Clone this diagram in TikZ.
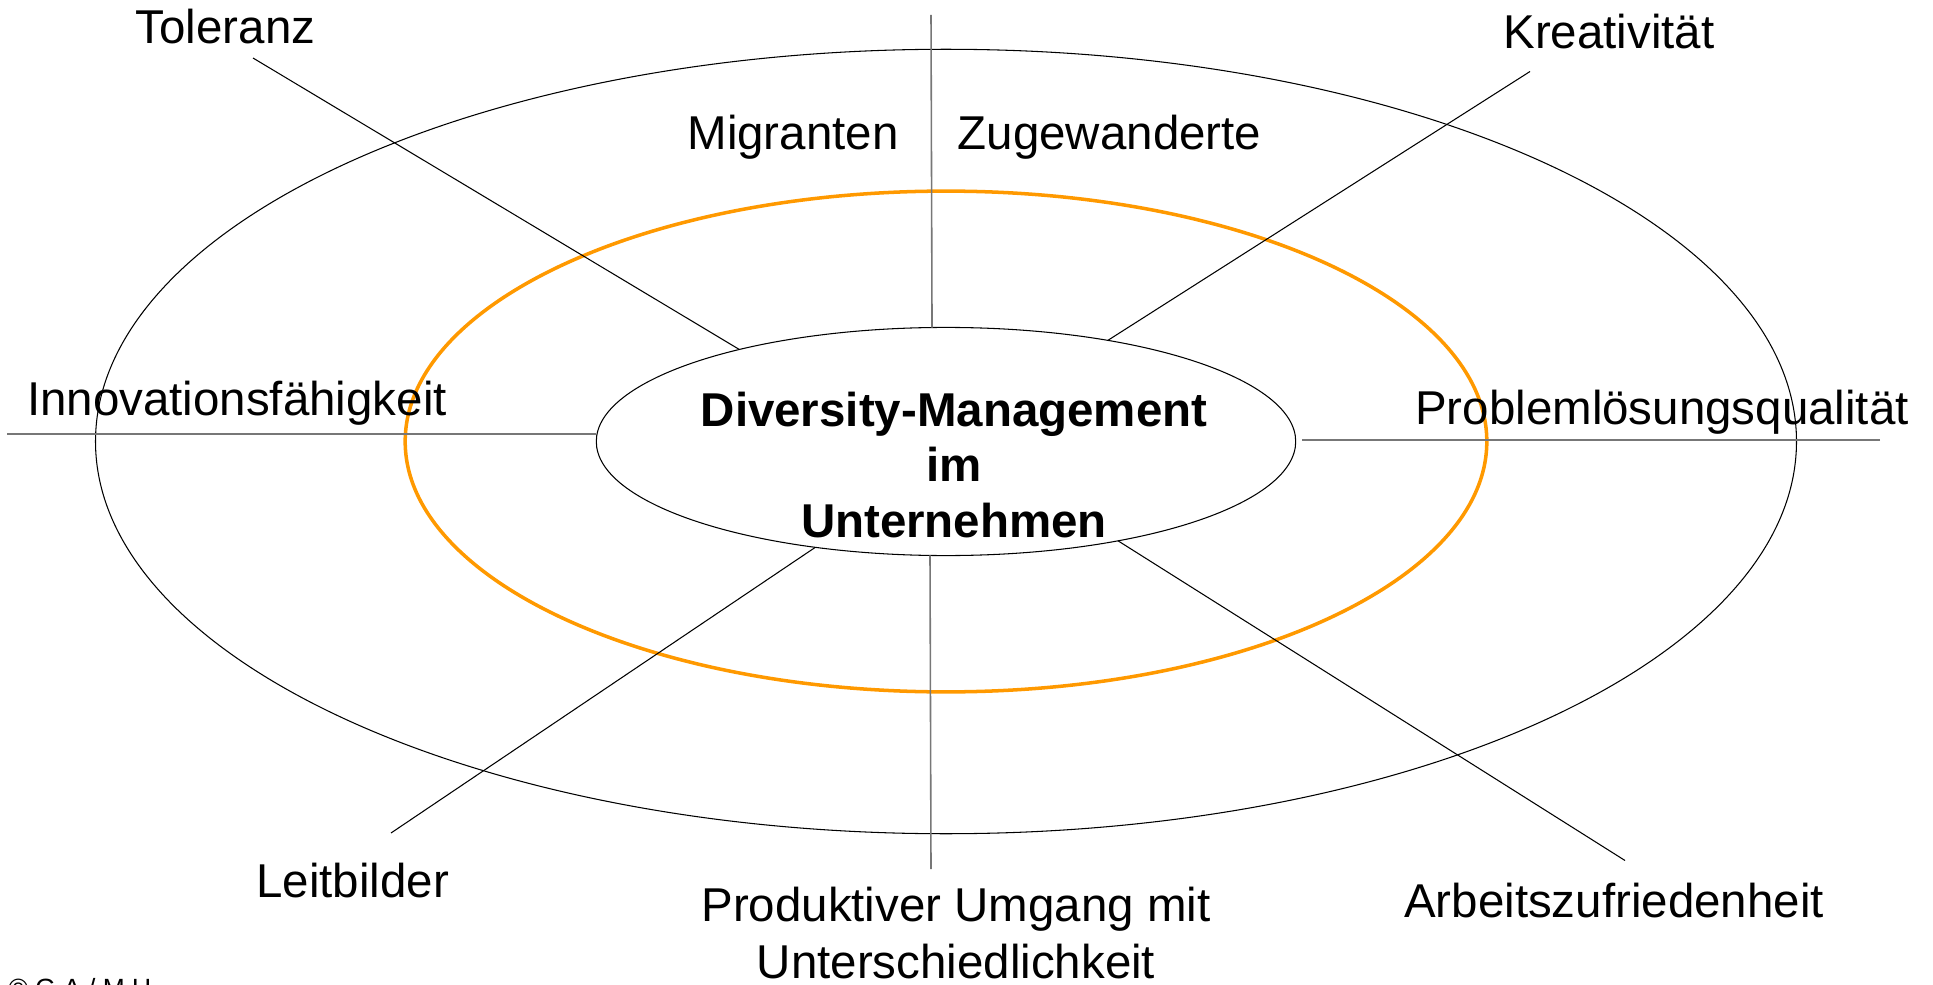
\documentclass[tikz,border=0pt]{standalone}
\usepackage{fontspec}
\setmainfont{Liberation Sans}
\usetikzlibrary{shapes.geometric}

\definecolor{ringorange}{HTML}{FF9900}
\definecolor{spokegray}{HTML}{777777}

\tikzset{
  lbl/.style={anchor=base, inner sep=0pt, font=\fontsize{13.5}{16}\selectfont},
  bold/.style={lbl, font=\fontsize{13.5}{16}\selectfont\bfseries},
  ring/.style={ellipse, draw, inner sep=0pt, outer sep=0pt},
  spoke/.style={draw=black, line width=0.3pt},
  axis/.style={draw=spokegray, line width=0.6pt},
}

\begin{document}
\begin{tikzpicture}[x=0.01cm, y=-0.01cm]

\useasboundingbox (0,0) rectangle (1933,985);

% rings
\node[ring, line width=0.3pt, minimum width=17cm, minimum height=7.84cm] (outer) at (946,441.5) {};
\node[ring, draw=ringorange, line width=1pt, minimum width=10.81cm, minimum height=5.005cm] (middle) at (946,441.5) {};
\node[ring, line width=0.3pt, minimum width=6.99cm, minimum height=2.28cm] (dm) at (946,441.5) {};

% centre text
\node[bold] (dm-1) at (954,426) {Diversity-Management};
\node[bold] (dm-2) at (954,481.5) {im};
\node[bold] (dm-3) at (954,537) {Unternehmen};

% free ends of the spokes
\coordinate (tol-end) at (253,58);
\coordinate (krea-end) at (1530,71.5);
\coordinate (mig-end) at (931,15);
\coordinate (inno-end) at (7,434);
\coordinate (prob-end) at (1880,440);
\coordinate (leit-end) at (391,833);
\coordinate (prod-end) at (931,869);
\coordinate (arb-end) at (1625,860.5);

% spokes
\draw[spoke] (tol-end) -- (dm.156);
\draw[spoke] (krea-end) -- (dm.32.4);
\draw[spoke] (leit-end) -- (dm.219.4);
\draw[spoke] (arb-end) -- (dm.330.7);
\draw[axis, line width=0.45pt] (mig-end) -- (dm.97.5);
\draw[axis, line width=0.45pt] (prod-end) -- (dm.262.5);
\draw[axis] (inno-end) -- (inno-end -| dm.west);
\draw[axis] (prob-end) -- ([xshift=0.06cm]prob-end -| dm.east);

% labels
\node[lbl] (toleranz) at (225.5,44) {Toleranz};
\node[lbl] (kreativ) at (1609,49) {Kreativität};
\node[lbl] (migranten) at (793,150) {Migranten};
\node[lbl] (zugew) at (1109.5,150) {Zugewanderte};
\node[lbl] (innov) at (237,415) {Innovationsfähigkeit};
\node[lbl] (problem) at (1662,424) {Problemlösungsqualität};
\node[lbl] (leitb) at (352.6,897) {Leitbilder};
\node[lbl] (prod-1) at (956,921) {Produktiver Umgang mit};
\node[lbl] (prod-2) at (956,978) {Unterschiedlichkeit};
\node[lbl] (arbeit) at (1614,917) {Arbeitszufriedenheit};

%\node at (75,990) {copyright};
\node[anchor=base west, inner sep=0pt, font=\fontsize{7.5}{9}\selectfont] (copy) at (8,997) {© G A / M U};

\end{tikzpicture}
\end{document}
